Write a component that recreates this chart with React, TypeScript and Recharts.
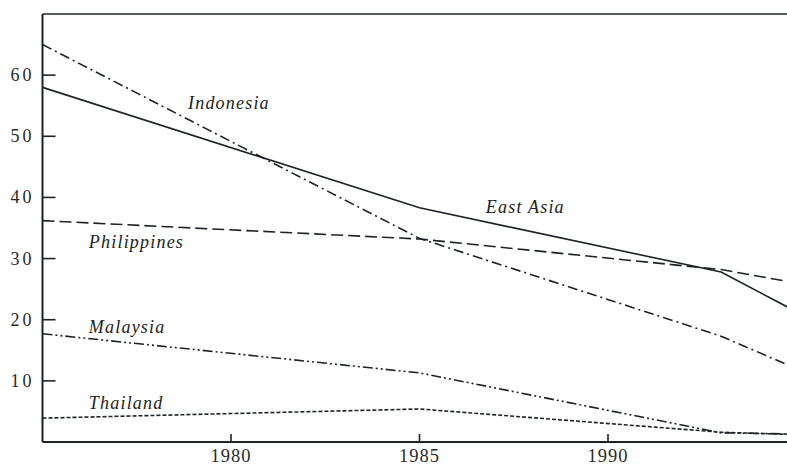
import React from "react";
import {
  LineChart,
  Line,
  XAxis,
  YAxis,
  ReferenceLine,
  ReferenceDot,
} from "recharts";

// survey years and poverty shares (%)
const years = [1975, 1985, 1993, 1995];
const eastAsia = [58, 38.3, 27.8, 21.3];
const indonesia = [65, 33.3, 17.3, 12.0];
const philippines = [36.2, 33.2, 28.2, 26.0];
const malaysia = [17.7, 11.3, 1.5, 1.3];
const thailand = [3.9, 5.4, 1.6, 1.2];

const xTicks = [1980, 1985, 1990];
const yTicks = [10, 20, 30, 40, 50, 60];

const data = years.map((year, i) => ({
  year,
  eastAsia: eastAsia[i],
  indonesia: indonesia[i],
  philippines: philippines[i],
  malaysia: malaysia[i],
  thailand: thailand[i],
}));

// where each series name is written (left edge, baseline), in data units
const labels = [
  { name: "Indonesia", x: 1978.86, y: 54.4 },
  { name: "East Asia", x: 1986.76, y: 37.5 },
  { name: "Philippines", x: 1976.23, y: 31.8 },
  { name: "Malaysia", x: 1976.23, y: 17.9 },
  { name: "Thailand", x: 1976.23, y: 5.4 },
];

const INK = "#1d2328";
const FONT = "'Liberation Serif', 'Times New Roman', serif";

const XTick = (props: any) => {
  const { x, y, payload } = props;
  return (
    <g>
      <line x1={x} y1={y} x2={x} y2={y - 8} stroke={INK} strokeWidth={1.6} />
      <text
        x={x}
        y={y + 20}
        textAnchor="middle"
        fontFamily={FONT}
        fontSize={18.5}
        letterSpacing={1}
        fill="#2a2a2a"
      >
        {payload.value}
      </text>
    </g>
  );
};

const YTick = (props: any) => {
  const { x, y, payload } = props;
  return (
    <g>
      <line x1={x} y1={y} x2={x + 13} y2={y} stroke={INK} strokeWidth={1.6} />
      <text
        x={x - 8}
        y={y + 6}
        textAnchor="end"
        fontFamily={FONT}
        fontSize={18}
        letterSpacing={3}
        fill="#2a2a2a"
      >
        {payload.value}
      </text>
    </g>
  );
};

const nameLabel = (name: string) => (props: any) => {
  const { viewBox } = props;
  return (
    <text
      x={viewBox.x}
      y={viewBox.y}
      fontFamily={FONT}
      fontStyle="italic"
      fontSize={18}
      letterSpacing={1.2}
      fill="#222"
    >
      {name}
    </text>
  );
};

export default function App() {
  return (
    <>
      <style>{"body{margin:0}"}</style>
      <div style={{ width: 787, height: 466, overflow: "hidden" }}>
        <LineChart
          width={800}
          height={466}
          data={data}
          margin={{ top: 14, right: 3.5, left: 0, bottom: 0 }}
        >
          <XAxis
            dataKey="year"
            type="number"
            domain={[1975, 1995]}
            ticks={xTicks}
            interval={0}
            height={24}
            tickSize={0}
            tickMargin={0}
            tickLine={false}
            tick={<XTick />}
            axisLine={{ stroke: INK, strokeWidth: 2 }}
          />
          <YAxis
            type="number"
            domain={[0, 70]}
            ticks={yTicks}
            interval={0}
            width={42.5}
            tickSize={0}
            tickMargin={0}
            tickLine={false}
            tick={<YTick />}
            axisLine={{ stroke: INK, strokeWidth: 2 }}
          />
          <ReferenceLine y={70} stroke={INK} strokeWidth={1.6} />

          <Line
            dataKey="eastAsia"
            stroke={INK}
            strokeWidth={1.6}
            dot={false}
            isAnimationActive={false}
          />
          <Line
            dataKey="indonesia"
            stroke={INK}
            strokeWidth={1.6}
            strokeDasharray="10 4 2 4"
            dot={false}
            isAnimationActive={false}
          />
          <Line
            dataKey="philippines"
            stroke={INK}
            strokeWidth={1.6}
            strokeDasharray="12 5"
            dot={false}
            isAnimationActive={false}
          />
          <Line
            dataKey="malaysia"
            stroke={INK}
            strokeWidth={1.6}
            strokeDasharray="10 3 2 3 2 3"
            dot={false}
            isAnimationActive={false}
          />
          <Line
            dataKey="thailand"
            stroke={INK}
            strokeWidth={1.6}
            strokeDasharray="4 2"
            dot={false}
            isAnimationActive={false}
          />

          {labels.map((l) => (
            <ReferenceDot
              key={l.name}
              x={l.x}
              y={l.y}
              r={0}
              fill="none"
              stroke="none"
              label={{ content: nameLabel(l.name) }}
            />
          ))}
        </LineChart>
      </div>
    </>
  );
}
